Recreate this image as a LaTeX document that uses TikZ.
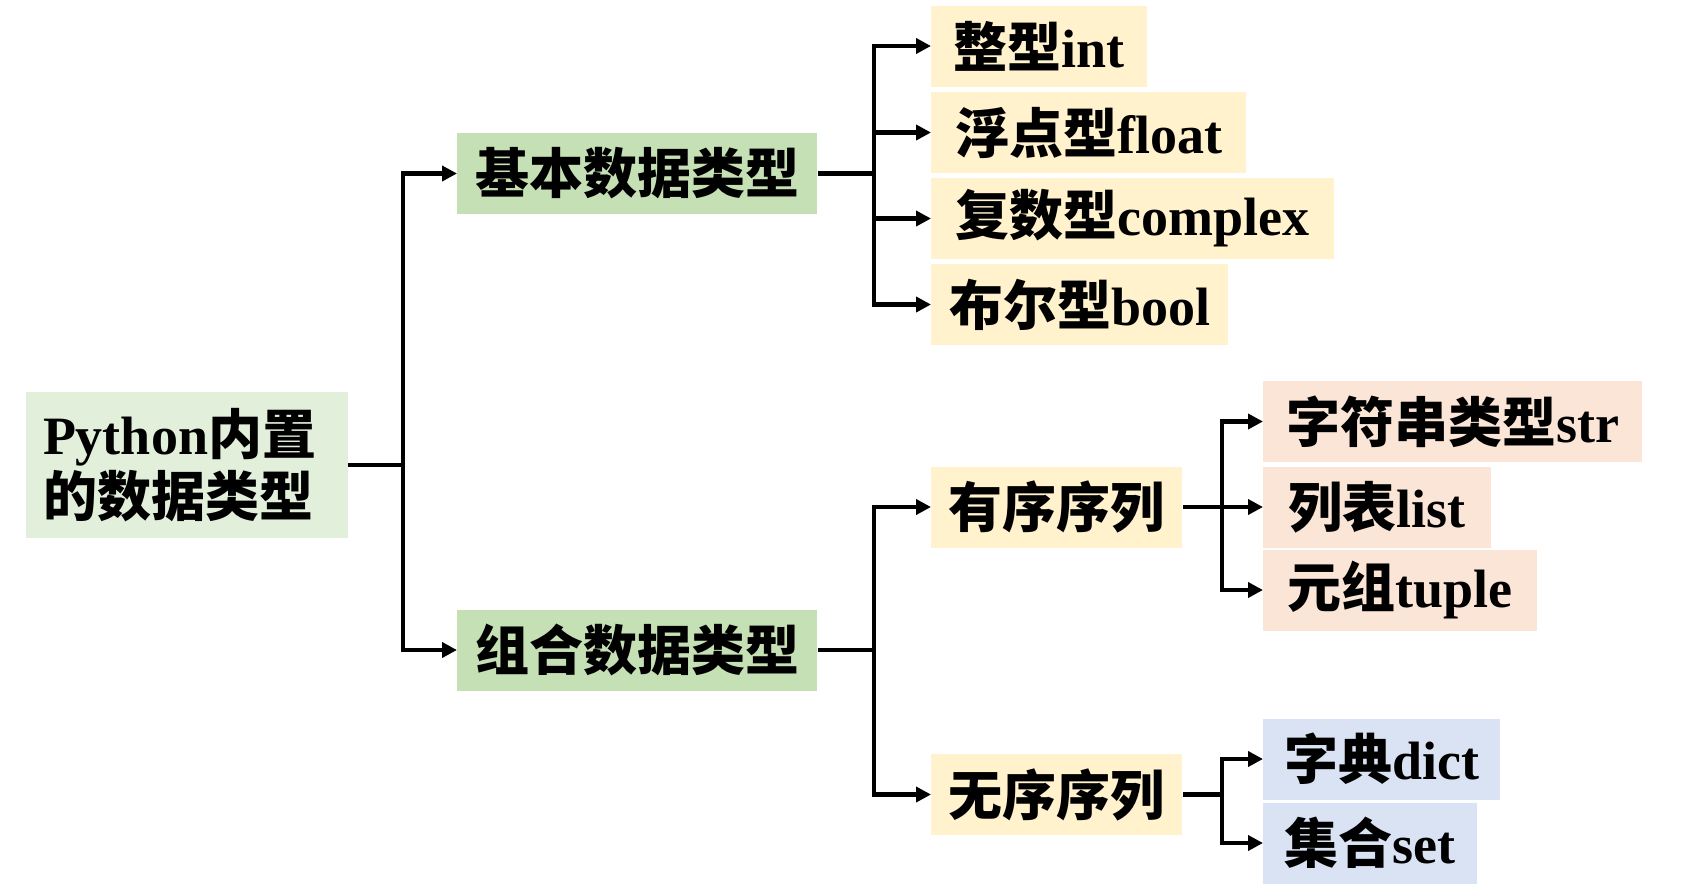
\documentclass[tikz,border=0pt]{standalone}
\usepackage{fontspec}
\setmainfont{Liberation Serif}
\newfontfamily\cjk{Noto Sans CJK SC Bold}
\usetikzlibrary{arrows.meta}
\definecolor{RootGreen}{HTML}{E2EFDA}
\definecolor{MidGreen}{HTML}{C5E0B4}
\definecolor{LeafYellow}{HTML}{FFF2CC}
\definecolor{LeafPeach}{HTML}{FBE5D6}
\definecolor{LeafBlue}{HTML}{DAE3F3}
\newcommand{\zh}[1]{{\cjk #1}}

\begin{document}
\begin{tikzpicture}[x=0.5pt,y=-0.5pt]
		\tikzset{> = {Triangle[length=7.5pt,width=7.5pt]},
			box/.style = {inner sep=0pt,minimum height=40.5pt,anchor=west,
				font=\fontsize{27pt}{31pt}\selectfont\bfseries},
			link/.style = {line width=2.3pt}}
		\useasboundingbox (0,0) rectangle (1686,895);
		\node[box,fill=RootGreen,anchor=center,inner xsep=8.5pt,text width=144pt,minimum height=73pt,align=left] (root) at (187,465) {Python\zh{内置}\\\zh{的数据类型}};
		\node[box,fill=MidGreen,minimum width=180pt] (basic) at (457,173.5) {\zh{基本数据类型}};
		\node[box,fill=MidGreen,minimum width=180pt] (combo) at (457,650) {\zh{组合数据类型}};
		\node[box,fill=LeafYellow,minimum width=108pt] (int) at (931,46) {\zh{整型}int};
		\node[box,fill=LeafYellow,minimum width=157.5pt] (float) at (931,132.5) {\zh{浮点型}float};
		\node[box,fill=LeafYellow,minimum width=201.5pt] (complex) at (931,218.5) {\zh{复数型}complex};
		\node[box,fill=LeafYellow,minimum width=148.5pt] (bool) at (931,304.5) {\zh{布尔型}bool};
		\node[box,fill=LeafYellow,minimum width=125.5pt] (ordered) at (931,507) {\zh{有序序列}};
		\node[box,fill=LeafYellow,minimum width=125.5pt] (unordered) at (931,794.5) {\zh{无序序列}};
		\node[box,fill=LeafPeach,minimum width=189.5pt] (str) at (1263,421.5) {\zh{字符串类型}str};
		\node[box,fill=LeafPeach,minimum width=114pt] (list) at (1263,507) {\zh{列表}list};
		\node[box,fill=LeafPeach,minimum width=137pt] (tuple) at (1263,590) {\zh{元组}tuple};
		\node[box,fill=LeafBlue,minimum width=118.5pt] (dict) at (1263,759) {\zh{字典}dict};
		\node[box,fill=LeafBlue,minimum width=107pt] (set) at (1263,843) {\zh{集合}set};
		\coordinate (rootfork) at (403,465);
		\coordinate (basicfork) at (874,173.5);
		\coordinate (combofork) at (874,650);
		\coordinate (orderedfork) at (1222,507);
		\coordinate (unorderedfork) at (1222,794.5);
		\draw[link] (root.east) -- (rootfork);
		\draw[link,->] (rootfork) |- (basic.west);
		\draw[link,->] (rootfork) |- (combo.west);
		\draw[link] (basic.east) -- (basicfork);
		\draw[link,->] (basicfork) |- (int.west);
		\draw[link,->] (basicfork) |- (float.west);
		\draw[link,->] (basicfork) |- (complex.west);
		\draw[link,->] (basicfork) |- (bool.west);
		\draw[link] (combo.east) -- (combofork);
		\draw[link,->] (combofork) |- (ordered.west);
		\draw[link,->] (combofork) |- (unordered.west);
		\draw[link] (ordered.east) -- (orderedfork);
		\draw[link,->] (orderedfork) |- (str.west);
		\draw[link,->] (orderedfork) |- (list.west);
		\draw[link,->] (orderedfork) |- (tuple.west);
		\draw[link] (unordered.east) -- (unorderedfork);
		\draw[link,->] (unorderedfork) |- (dict.west);
		\draw[link,->] (unorderedfork) |- (set.west);
	\end{tikzpicture}
\end{document}
